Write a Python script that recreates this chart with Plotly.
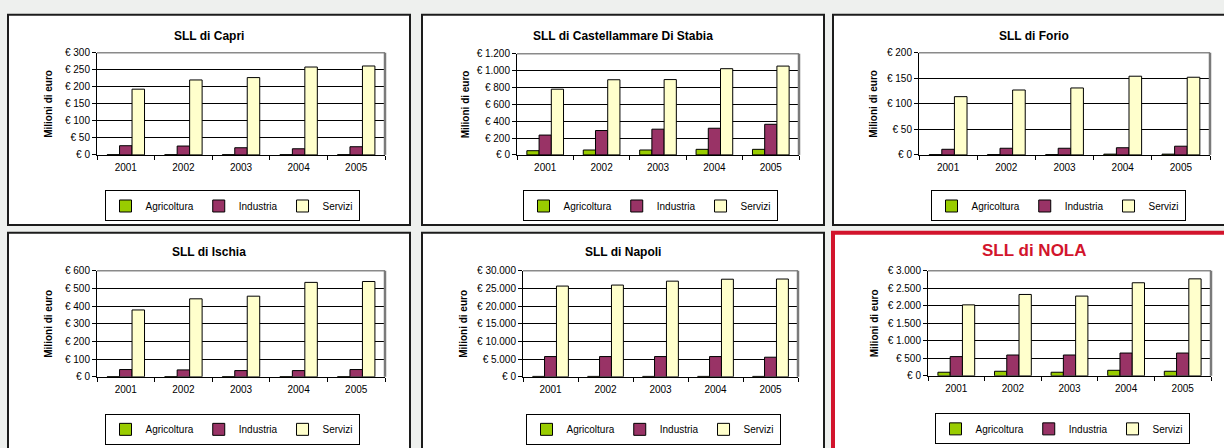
import plotly.graph_objects as go

years = ["2001", "2002", "2003", "2004", "2005"]
series_names = ["Agricoltura", "Industria", "Servizi"]
series_colors = ["#99cc00", "#993366", "#ffffcc"]

titles = ["SLL di Capri", "SLL di Castellammare Di Stabia", "SLL di Forio",
          "SLL di Ischia", "SLL di Napoli", "SLL di NOLA"]

capri_agr = [0.5, 0.5, 0.5, 0.5, 0.5]
capri_ind = [27, 26, 21, 18, 24]
capri_ser = [193, 220, 227, 258, 261]

cast_agr = [50, 58, 58, 66, 66]
cast_ind = [235, 289, 305, 316, 363]
cast_ser = [779, 891, 893, 1022, 1053]

forio_agr = [0.5, 0.5, 0.5, 1.5, 1.5]
forio_ind = [11, 13, 13, 14, 17]
forio_ser = [114, 127, 131, 154, 152]

ischia_agr = [1, 1, 1, 1, 1]
ischia_ind = [41, 39, 35, 35, 41]
ischia_ser = [378, 441, 456, 534, 539]

napoli_agr = [110, 110, 110, 110, 110]
napoli_ind = [5720, 5720, 5720, 5720, 5540]
napoli_ser = [25660, 25940, 27050, 27600, 27650]

nola_agr = [102, 130, 102, 158, 130]
nola_ind = [548, 594, 594, 650, 650]
nola_ser = [2025, 2322, 2276, 2656, 2768]

capri_ticks = [0, 50, 100, 150, 200, 250, 300]
capri_ticktext = ["€ 0", "€ 50", "€ 100", "€ 150", "€ 200", "€ 250", "€ 300"]
cast_ticks = [0, 200, 400, 600, 800, 1000, 1200]
cast_ticktext = ["€ 0", "€ 200", "€ 400", "€ 600", "€ 800", "€ 1.000", "€ 1.200"]
forio_ticks = [0, 50, 100, 150, 200]
forio_ticktext = ["€ 0", "€ 50", "€ 100", "€ 150", "€ 200"]
ischia_ticks = [0, 100, 200, 300, 400, 500, 600]
ischia_ticktext = ["€ 0", "€ 100", "€ 200", "€ 300", "€ 400", "€ 500", "€ 600"]
napoli_ticks = [0, 5000, 10000, 15000, 20000, 25000, 30000]
napoli_ticktext = ["€ 0", "€ 5.000", "€ 10.000", "€ 15.000", "€ 20.000", "€ 25.000", "€ 30.000"]
nola_ticks = [0, 500, 1000, 1500, 2000, 2500, 3000]
nola_ticktext = ["€ 0", "€ 500", "€ 1.000", "€ 1.500", "€ 2.000", "€ 2.500", "€ 3.000"]

data = [
    (capri_agr, capri_ind, capri_ser, capri_ticks, capri_ticktext),
    (cast_agr, cast_ind, cast_ser, cast_ticks, cast_ticktext),
    (forio_agr, forio_ind, forio_ser, forio_ticks, forio_ticktext),
    (ischia_agr, ischia_ind, ischia_ser, ischia_ticks, ischia_ticktext),
    (napoli_agr, napoli_ind, napoli_ser, napoli_ticks, napoli_ticktext),
    (nola_agr, nola_ind, nola_ser, nola_ticks, nola_ticktext),
]

W, H = 1224, 448
FONT = "Liberation Sans, Arial, sans-serif"

# layout geometry in pixels (left, right, top, bottom)
panels = [(8, 410, 9, 225), (422, 824, 9, 225), (833, 1235, 9, 225),
          (8, 410, 233, 460), (422, 824, 233, 460), (833, 1235, 233, 460)]
plots = [(97, 385, 48, 153), (517, 799, 49, 153), (919, 1210, 48, 153),
         (97, 385, 272, 381), (523, 798, 272, 381), (928, 1211, 272, 380)]
ytitle_x = [49, 465, 874, 49, 464, 874]
title_y = [31, 31, 31, 253, 253, 251]
legend_c = [(232, 205.5), (650, 205.5), (1058, 205.5), (232, 435), (653, 435), (1062, 434.5)]


def px(x):
    return x / W


def py(y):
    return 1 - y / H


fig = go.Figure()
shapes = []
annotations = []
layout = {}

for i, (agr, ind, ser, tv, tt) in enumerate(data):
    n = i + 1
    xa = "x" if n == 1 else f"x{n}"
    ya = "y" if n == 1 else f"y{n}"
    lg = "legend" if n == 1 else f"legend{n}"
    for name, color, vals in zip(series_names, series_colors, (agr, ind, ser)):
        fig.add_trace(go.Bar(
            x=years, y=vals, name=name, xaxis=xa, yaxis=ya, legend=lg,
            marker=dict(color=color, line=dict(color="black", width=1)),
            showlegend=True, hoverinfo="x+y+name",
        ))
    l, r, t, b = plots[i]
    xkey = "xaxis" if n == 1 else f"xaxis{n}"
    ykey = "yaxis" if n == 1 else f"yaxis{n}"
    layout[xkey] = dict(
        domain=[px(l), px(r)], anchor=ya, type="category",
        showline=True, linecolor="black", linewidth=1,
        ticks="outside", tickson="boundaries", ticklen=4, tickcolor="black",
        ticklabelstandoff=3,
        tickfont=dict(family=FONT, size=10, color="black"),
        showgrid=False, fixedrange=True,
    )
    layout[ykey] = dict(
        domain=[py(b), py(t)], anchor=xa, range=[0, tv[-1]],
        tickvals=tv, ticktext=tt,
        showline=True, linecolor="black", linewidth=1,
        ticks="outside", ticklen=4, tickcolor="black",
        tickfont=dict(family=FONT, size=10, color="black"),
        showgrid=True, gridcolor="black", gridwidth=1, zeroline=False,
        fixedrange=True,
    )
    cx, cy = legend_c[i]
    layout[lg] = dict(
        orientation="h", x=px(cx), y=py(cy), xanchor="center", yanchor="middle",
        bgcolor="white", bordercolor="black", borderwidth=1,
        font=dict(family=FONT, size=10, color="black"),
        itemwidth=30, traceorder="normal",
    )

    # panel frame
    pl, pr, pt, pb = panels[i]
    red = (i == 5)
    shapes.append(dict(
        type="rect", xref="paper", yref="paper", layer="below",
        x0=px(pl), x1=px(pr), y0=py(pb), y1=py(pt),
        line=dict(color="#d2142c" if red else "#1c1c1c", width=4 if red else 2),
        fillcolor="white",
    ))
    # plot-area frame (top and right gray edges)
    shapes.append(dict(type="line", xref=f"{xa} domain", yref=f"{ya} domain",
                       x0=0, x1=1, y0=1, y1=1, line=dict(color="#8a8a8a", width=1.5)))
    shapes.append(dict(type="line", xref=f"{xa} domain", yref=f"{ya} domain",
                       x0=1, x1=1, y0=0, y1=1, line=dict(color="#7a7a7a", width=2.5)))

    # titles
    if red:
        annotations.append(dict(
            text="<b>SLL di NOLA</b>", xref="paper", yref="paper",
            x=px((pl + pr) / 2), y=py(title_y[i]), xanchor="center", yanchor="middle",
            showarrow=False, font=dict(family=FONT, size=17, color="#d2142c"),
        ))
    else:
        annotations.append(dict(
            text=f"<b>{titles[i]}</b>", xref="paper", yref="paper",
            x=px((pl + pr) / 2), y=py(title_y[i]), xanchor="center", yanchor="middle",
            showarrow=False, font=dict(family=FONT, size=12, color="black"),
        ))
    annotations.append(dict(
        text="<b>Milioni di euro</b>", xref="paper", yref="paper",
        x=px(ytitle_x[i]), y=py((t + b) / 2), xanchor="center", yanchor="middle",
        textangle=-90, showarrow=False, font=dict(family=FONT, size=10, color="black"),
    ))

fig.update_layout(
    width=W, height=H, margin=dict(l=0, r=0, t=0, b=0),
    paper_bgcolor="#eef0ee", plot_bgcolor="#c0c0c0",
    barmode="group", bargap=0.35, bargroupgap=0,
    shapes=shapes, annotations=annotations,
    font=dict(family=FONT, color="black"),
    **layout,
)

fig.write_html(
    "out.html",
    config={"displayModeBar": False, "staticPlot": False},
    post_script="document.body.style.margin='0';document.body.style.overflow='hidden';",
)
